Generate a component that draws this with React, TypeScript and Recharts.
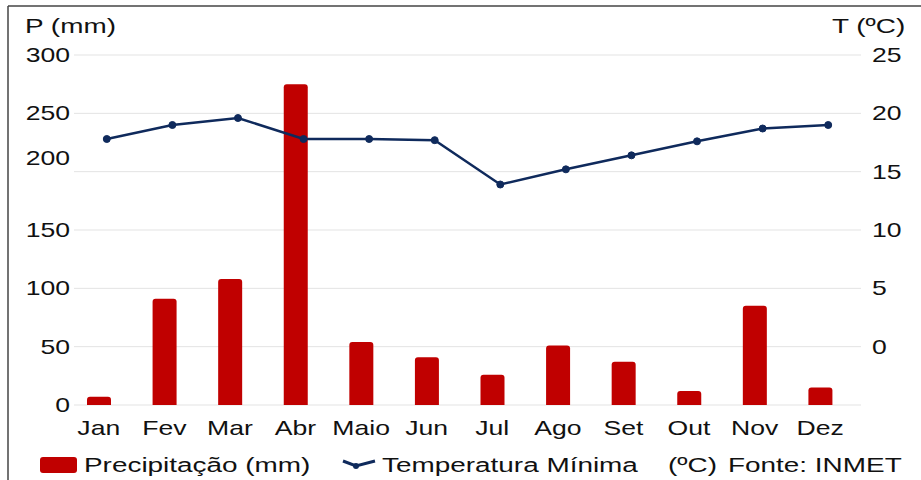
import {
    ComposedChart,
    Bar,
    Line,
    XAxis,
    YAxis,
    CartesianGrid,
    Rectangle,
} from "recharts";

const months = ["Jan", "Fev", "Mar", "Abr", "Maio", "Jun", "Jul", "Ago", "Set", "Out", "Nov", "Dez"];
const precipitation = [7, 91, 108, 275, 54, 41, 26, 51, 37, 12, 85, 15];
const minTemperature = [17.8, 19.0, 19.6, 17.8, 17.8, 17.7, 13.9, 15.2, 16.4, 17.6, 18.7, 19.0];
const precipTicks = [0, 50, 100, 150, 200, 250, 300];
const tempTicks = [0, 5, 10, 15, 20, 25];

const data = months.map((month, i) => ({
    month,
    precip: precipitation[i],
    temp: minTemperature[i],
}));

const RED = "#C00000";
const NAVY = "#0F2A5C";
const INK = "#111";
const FONT = "'Liberation Sans', Arial, sans-serif";
const STRETCH = 1.33;
// bars and month labels sit a little left of the temperature points in the original
const SHIFT = -8;

function Label({ x, y, anchor = "start", size = 20, children }: any) {
    return (
        <text
            transform={`translate(${x},${y}) scale(${STRETCH},1)`}
            textAnchor={anchor}
            fontFamily={FONT}
            fontSize={size}
            fill={INK}
        >
            {children}
        </text>
    );
}

function MonthTick({ x, y, payload }: any) {
    return (
        <Label x={x + SHIFT} y={y + 30} anchor="middle">
            {payload.value}
        </Label>
    );
}

function PrecipTick({ x, y, payload }: any) {
    // the "200" label is drawn higher than its gridline in the source chart
    const lift = payload.value === 200 ? -14 : 0;
    return (
        <Label x={x} y={y + 7 + lift} anchor="end">
            {payload.value}
        </Label>
    );
}

function TempTick({ x, y, payload }: any) {
    return (
        <Label x={x} y={y + 7}>
            {payload.value}
        </Label>
    );
}

function ShiftedBar(props: any) {
    return <Rectangle {...props} x={props.x + SHIFT} radius={[3, 3, 0, 0]} fill={RED} />;
}

export default function App() {
    return (
        <div style={{ position: "absolute", left: 0, top: 0, width: 921, height: 480, background: "#fff" }}>
            <ComposedChart
                width={921}
                height={480}
                data={data}
                margin={{ top: 55, right: 0, bottom: 35, left: 0 }}
            >
                <CartesianGrid yAxisId="left" vertical={false} stroke="#e3e3e3" strokeWidth={1} />
                <XAxis
                    dataKey="month"
                    axisLine={false}
                    tickLine={false}
                    tickSize={0}
                    tickMargin={0}
                    height={40}
                    interval={0}
                    tick={<MonthTick />}
                />
                <YAxis
                    yAxisId="left"
                    domain={[0, 300]}
                    ticks={precipTicks}
                    width={74}
                    axisLine={false}
                    tickLine={false}
                    tickSize={0}
                    tickMargin={4}
                    tick={<PrecipTick />}
                />
                <YAxis
                    yAxisId="right"
                    orientation="right"
                    domain={[-5, 25]}
                    ticks={tempTicks}
                    width={60}
                    axisLine={false}
                    tickLine={false}
                    tickSize={0}
                    tickMargin={11}
                    tick={<TempTick />}
                />
                <Bar
                    yAxisId="left"
                    dataKey="precip"
                    barSize={24}
                    fill={RED}
                    shape={<ShiftedBar />}
                    isAnimationActive={false}
                />
                <Line
                    yAxisId="right"
                    dataKey="temp"
                    stroke={NAVY}
                    strokeWidth={2.5}
                    dot={{ r: 3.5, fill: NAVY, stroke: NAVY, strokeWidth: 1 }}
                    activeDot={false}
                    isAnimationActive={false}
                />
            </ComposedChart>

            {/* titles, legend and frame */}
            <svg
                width={921}
                height={480}
                style={{ position: "absolute", left: 0, top: 0, pointerEvents: "none" }}
            >
                <line x1={8} y1={6} x2={921} y2={6} stroke="#444" strokeWidth={1.5} />
                <line x1={8} y1={6} x2={8} y2={480} stroke="#444" strokeWidth={1.5} />

                <Label x={25} y={33} size={21}>P (mm)</Label>
                <Label x={832} y={33} size={21}>T (ºC)</Label>

                <rect x={40} y={457} width={37} height={16} rx={3} fill={RED} />
                <Label x={84} y={472} size={21}>Precipitação (mm)</Label>

                <polyline points="343,461 356,466 375,461" fill="none" stroke={NAVY} strokeWidth={3} />
                <circle cx={356} cy={466} r={3} fill={NAVY} />
                <Label x={382} y={472} size={21}>Temperatura Mínima</Label>

                <Label x={668} y={472} size={21}>(ºC)</Label>
                <Label x={728} y={472} size={21}>Fonte: INMET</Label>
            </svg>
        </div>
    );
}
